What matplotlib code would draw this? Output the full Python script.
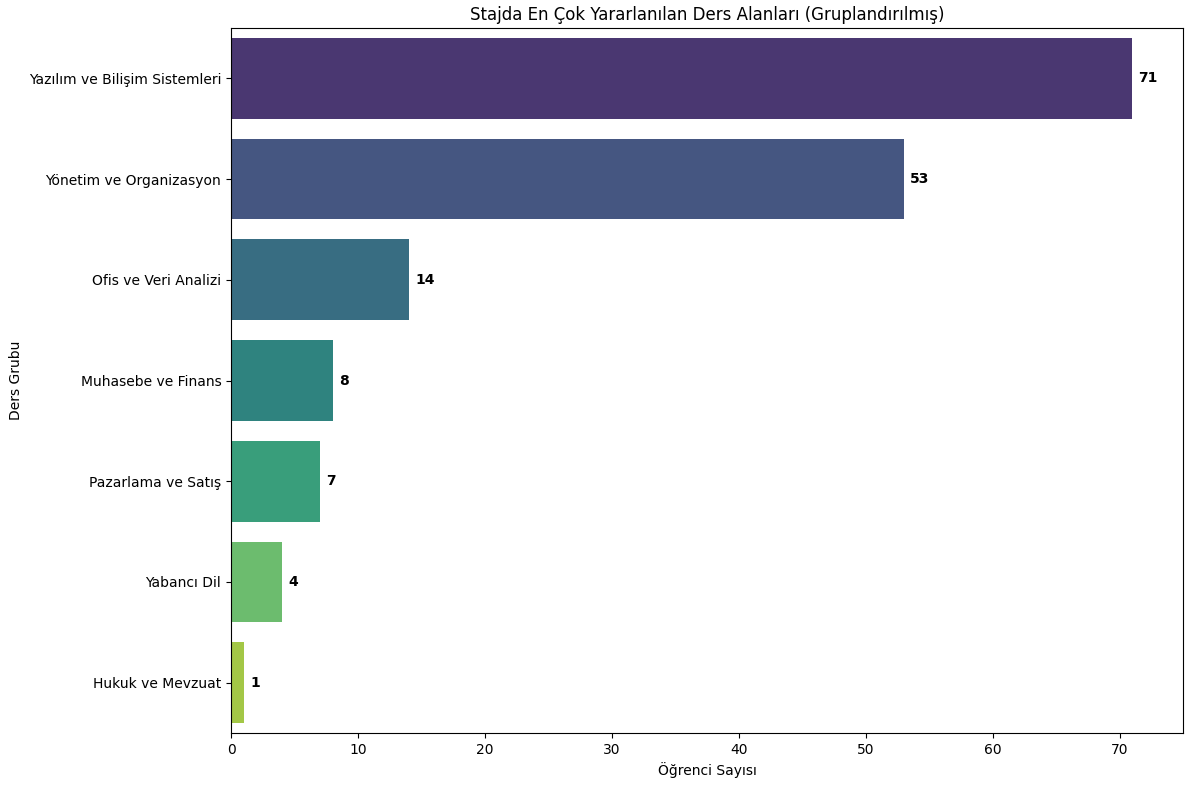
import matplotlib
matplotlib.use('Agg')
import matplotlib.pyplot as plt
import seaborn as sns

categories = ['Yazılım ve Bilişim Sistemleri', 'Yönetim ve Organizasyon', 'Ofis ve Veri Analizi',
              'Muhasebe ve Finans', 'Pazarlama ve Satış', 'Yabancı Dil', 'Hukuk ve Mevzuat']
counts = [71, 53, 14, 8, 7, 4, 1]

fig = plt.figure(figsize=(11.86, 7.86), dpi=100)
ax = fig.add_axes([0.1948, 0.0674, 0.8027, 0.897])
colors = sns.color_palette('viridis', len(categories))
sns.barplot(x=counts, y=categories, hue=categories, palette=colors, legend=False, ax=ax)

for i, v in enumerate(counts):
    ax.text(v + 0.5, i, str(v), va='center', ha='left', fontweight='bold', fontsize=10)

ax.set_xlim(0, 75)
ax.set_title('Stajda En Çok Yararlanılan Ders Alanları (Gruplandırılmış)', fontsize=12)
ax.set_xlabel('Öğrenci Sayısı')
ax.set_ylabel('Ders Grubu')
fig.savefig('out.png', dpi=100)
